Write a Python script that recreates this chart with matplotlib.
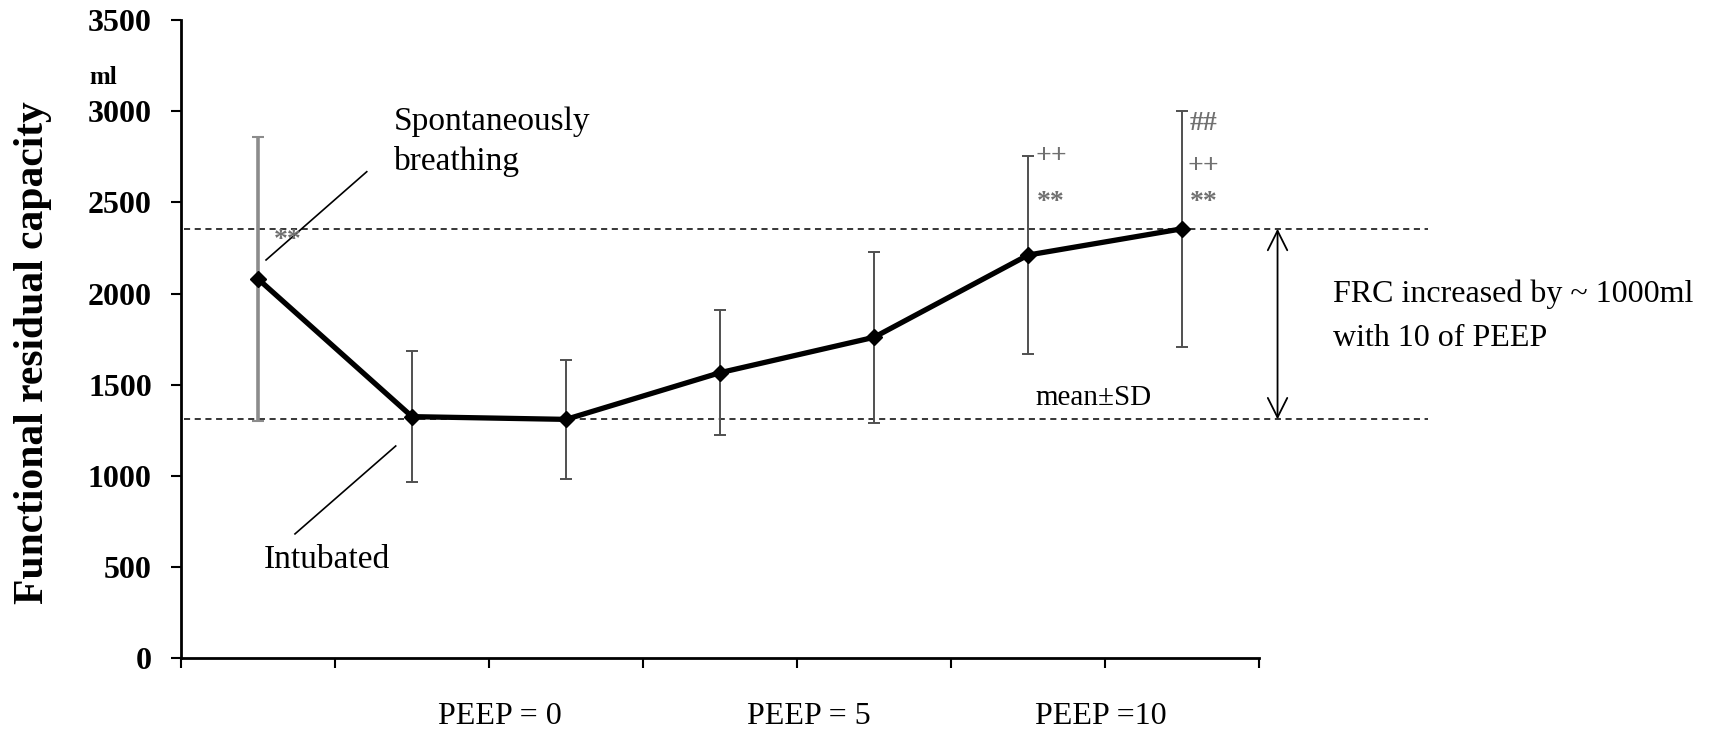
import matplotlib.pyplot as plt

# FRC (ml), mean and SD for each step of the protocol
steps = [0, 1, 2, 3, 4, 5, 6]
frc_mean = [2080, 1325, 1310, 1566, 1760, 2211, 2355]
frc_sd = [780, 360, 325, 343, 468, 544, 646]

yticks = [0, 500, 1000, 1500, 2000, 2500, 3000, 3500]
peep_labels = ['PEEP = 0', 'PEEP = 5', 'PEEP =10']
peep_pos = [2.07, 4.08, 5.97]

serif = ['Liberation Serif', 'DejaVu Serif']
plt.rcParams['font.family'] = serif

fig = plt.figure(figsize=(17.29, 7.37), dpi=100)
ax = fig.add_axes([0.1047, 0.1068, 0.6235, 0.8661])

x = [s + 0.5 for s in steps]

# first point has a lighter, heavier error bar
ax.errorbar(x[:1], frc_mean[:1], yerr=frc_sd[:1], fmt='none',
            ecolor='#8c8c8c', elinewidth=2.6, capsize=4, capthick=1.5, zorder=2)
ax.errorbar(x[1:], frc_mean[1:], yerr=frc_sd[1:], fmt='none',
            ecolor='#505050', elinewidth=1.4, capsize=4, capthick=1.4, zorder=2)
ax.plot(x, frc_mean, color='black', lw=3.8, marker='D', ms=8, zorder=3)

# dashed reference lines at the lowest and highest mean
lo, hi = min(frc_mean), max(frc_mean)
for yv in (lo, hi):
    ax.plot([0.02, 8.1], [yv, yv], ls=(0, (4, 3)), color='black', lw=1.1,
            clip_on=False, zorder=1)

ax.annotate('', xy=(7.12, hi), xytext=(7.12, lo),
            arrowprops=dict(arrowstyle='<->', color='black', lw=1.3,
                            mutation_scale=35, shrinkA=0, shrinkB=0),
            annotation_clip=False)

ax.set_xlim(0, 7)
ax.set_ylim(0, 3500)
ax.set_xticks(range(0, 8))
ax.set_xticklabels([])
ax.set_yticks(yticks)
ax.set_yticklabels([str(v) for v in yticks], fontsize=23, fontweight='bold')
ax.tick_params(axis='y', direction='out', length=7, width=1.5, pad=14)
ax.tick_params(axis='x', direction='out', length=7, width=1.5)
for side in ('top', 'right'):
    ax.spines[side].set_visible(False)
for side in ('left', 'bottom'):
    ax.spines[side].set_linewidth(2)

for lab, p in zip(peep_labels, peep_pos):
    ax.text(p, -320, lab, ha='center', va='center', fontsize=23)

fig.text(0.019, 0.521, 'Functional residual capacity', rotation=90,
         ha='center', va='center', fontsize=30, fontweight='bold')
fig.text(0.0595, 0.895, 'ml', ha='center', va='center', fontsize=18,
         fontweight='bold')

# annotations
ax.plot([0.552, 1.206], [2184, 2668], color='black', lw=1.2)
ax.plot([1.394, 0.740], [1164, 682], color='black', lw=1.2)
ax.text(1.383, 2897, 'Spontaneously', fontsize=24, va='baseline')
ax.text(1.383, 2678, 'breathing', fontsize=24, va='baseline')
ax.text(0.534, 493, 'Intubated', fontsize=24, va='baseline')
ax.text(5.545, 1389, 'mean\u00b1SD', fontsize=21, va='baseline')
ax.text(7.48, 1955, 'FRC increased by ~ 1000ml', fontsize=23,
        va='baseline', clip_on=False)
ax.text(7.48, 1714, 'with 10 of PEEP', fontsize=23, va='baseline',
        clip_on=False)

# significance marks
mark_kw = dict(fontsize=20, color='#707070', ha='center', va='center',
               fontweight='bold')
ax.text(0.69, 2290, '**', **mark_kw)
ax.text(5.65, 2754, '++', **mark_kw)
ax.text(5.65, 2500, '**', **mark_kw)
ax.text(6.64, 2935, '##', **mark_kw)
ax.text(6.64, 2699, '++', **mark_kw)
ax.text(6.64, 2500, '**', **mark_kw)

fig.savefig('out.png', dpi=100)
